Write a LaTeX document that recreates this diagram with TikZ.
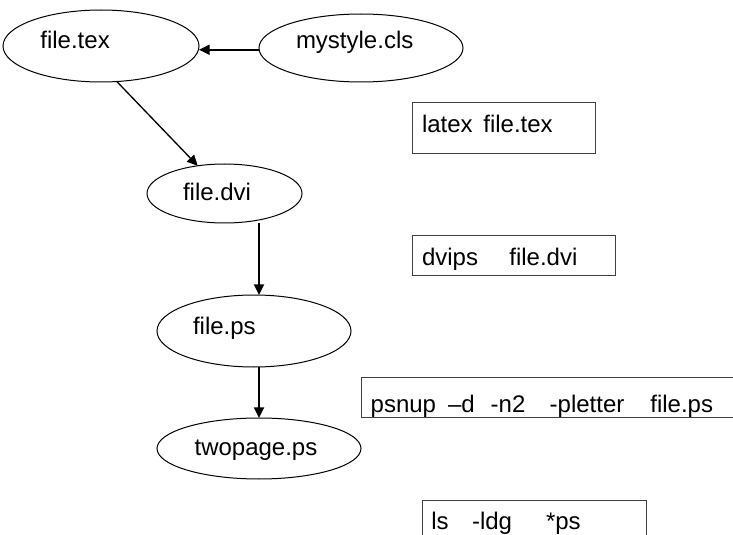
\documentclass[tikz,border=0pt]{standalone}
\usepackage{fontspec}
\setmainfont{Liberation Sans}
\usetikzlibrary{arrows.meta,shapes.geometric}
\tikzset{
  ell/.style={draw=black, line width=0.75pt, ellipse, inner sep=0pt, outer sep=0pt},
  cmdbox/.style={draw=black!75, line width=0.75pt, rectangle, inner sep=0pt, outer sep=0pt, anchor=north west},
  lbl/.style={inner sep=0pt, outer sep=0pt, anchor=base west, font=\fontsize{18pt}{21pt}\selectfont},
  conn/.style={line width=1.4pt, -{Triangle[length=8pt,width=7.5pt]}},
  conntwo/.style={line width=1pt, -{Triangle[length=8pt,width=7.5pt]}}
}
\begin{document}
\begin{tikzpicture}[x=0.75pt,y=-0.75pt]
\clip (0,0) rectangle (733,535);
\fill[white] (0,0) rectangle (733,535);
% ellipses
\node[ell, minimum width=147pt, minimum height=54pt] (tex) at (101,46) {};
\node[ell, minimum width=153pt, minimum height=51pt] (sty) at (361,48) {};
\node[ell, minimum width=116.25pt, minimum height=44.25pt] (dvi) at (224.5,193.5) {};
\node[ell, minimum width=145.5pt, minimum height=54pt] (ps) at (254,331) {};
\node[ell, minimum width=153pt, minimum height=45.75pt] (tw) at (259,448.5) {};
% ellipse labels
\node[lbl] (texl) at (40.4,49) {file.tex};
\node[lbl] (styl) at (296,49) {mystyle.cls};
\node[lbl] (dvil) at (183,200) {file.dvi};
\node[lbl] (psl) at (193,334) {file.ps};
\node[lbl] (twl) at (194.6,455) {twopage.ps};
% command boxes
\node[cmdbox, minimum width=137.25pt, minimum height=38.25pt] (b1) at (412,103) {};
\node[cmdbox, minimum width=152.25pt, minimum height=30pt] (b2) at (412,235) {};
\node[cmdbox, minimum width=300pt, minimum height=30.4pt] (b3) at (361,377) {};
\node[cmdbox, minimum width=168pt, minimum height=45pt] (b4) at (422,500) {};
% command texts
\node[lbl] (c1) at (422,133) {latex\hspace{8pt}file.tex};
\node[lbl] (c2) at (422,266) {dvips\hspace{23.5pt}file.dvi};
\node[lbl] (c3) at (370.7,412) {psnup\hspace{9pt}–d\hspace{12pt}-n2\hspace{18.2pt}-pletter\hspace{19.5pt}file.ps};
\node[lbl] (c4) at (431.4,529.5) {ls\hspace{17.5pt}-ldg\hspace{25.5pt}*ps};
% connector end points on the ellipse borders
\coordinate (styw) at (sty.181.7);
\coordinate (texd) at (tex.-66);
\coordinate (dvit) at (dvi.134);
% connectors
\draw[conn] (styw) -- (styw -| tex.east);
\draw[conntwo] (texd) -- (dvit);
\draw[conn] (dvi.south -| tw.north) -- (ps.north -| tw.north);
\draw[conn] (ps.south -| tw.north) -- (tw.north);
\end{tikzpicture}
\end{document}
